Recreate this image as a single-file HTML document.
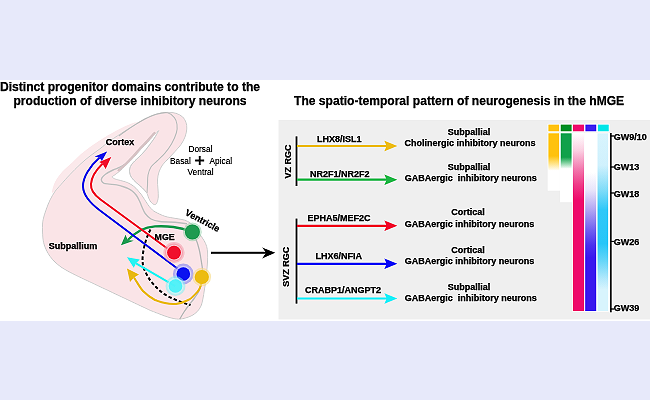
<!DOCTYPE html>
<html><head><meta charset="utf-8">
<style>
html,body{margin:0;padding:0;width:650px;height:400px;overflow:hidden;background:#e7e9fa;}
svg{position:absolute;left:0;top:0;will-change:transform;}
text{font-family:"Liberation Sans",sans-serif;}
.b{font-weight:bold;}
text{stroke:#000;stroke-width:0.25px;}
.n{stroke-width:0.1px;}
</style></head>
<body>
<svg width="650" height="400" viewBox="0 0 650 400">
<defs>
  <filter id="sharp" x="0" y="81" width="650" height="239" filterUnits="userSpaceOnUse" color-interpolation-filters="sRGB"><feConvolveMatrix order="3" kernelMatrix="0 -0.18 0 -0.18 1.72 -0.18 0 -0.18 0" edgeMode="duplicate" preserveAlpha="true"/></filter>
  <linearGradient id="gY" x1="0" y1="0" x2="0" y2="1"><stop offset="0" stop-color="#ffc20e"/><stop offset="0.40" stop-color="#ffc20e"/><stop offset="0.52" stop-color="#ffe07a"/><stop offset="0.66" stop-color="#fff"/><stop offset="1" stop-color="#fff"/></linearGradient>
  <linearGradient id="gG" x1="0" y1="0" x2="0" y2="1"><stop offset="0" stop-color="#10a14b"/><stop offset="0.35" stop-color="#10a14b"/><stop offset="0.43" stop-color="#7ccf9c"/><stop offset="0.52" stop-color="#fff"/><stop offset="1" stop-color="#fff"/></linearGradient>
  <linearGradient id="gP" x1="0" y1="0" x2="0" y2="1"><stop offset="0" stop-color="#fff"/><stop offset="0.096" stop-color="#fbd0e2"/><stop offset="0.21" stop-color="#f272aa"/><stop offset="0.29" stop-color="#ef3a88"/><stop offset="0.376" stop-color="#ee0a6c"/><stop offset="1" stop-color="#ee0a6c"/></linearGradient>
  <linearGradient id="gV" x1="0" y1="0" x2="0" y2="1"><stop offset="0" stop-color="#fff"/><stop offset="0.22" stop-color="#fff"/><stop offset="0.32" stop-color="#e8e4fa"/><stop offset="0.433" stop-color="#b0a4f2"/><stop offset="0.545" stop-color="#7060f0"/><stop offset="0.63" stop-color="#4a30ee"/><stop offset="0.70" stop-color="#3a18ee"/><stop offset="1" stop-color="#3a18ee"/></linearGradient>
  <linearGradient id="gC" x1="0" y1="0" x2="0" y2="1"><stop offset="0" stop-color="#d8f4fd"/><stop offset="0.18" stop-color="#d0f1fd"/><stop offset="0.32" stop-color="#80dcf8"/><stop offset="0.43" stop-color="#30c8f8"/><stop offset="0.62" stop-color="#28c6f8"/><stop offset="0.71" stop-color="#60d4f8"/><stop offset="0.826" stop-color="#b8eafc"/><stop offset="0.88" stop-color="#d8f4fd"/><stop offset="1" stop-color="#d8f4fd"/></linearGradient>
</defs>
<rect x="0" y="0" width="650" height="400" fill="#e7e9fa"/>
<rect x="0" y="80" width="650" height="241" fill="#ffffff"/>
<rect x="278.5" y="120" width="371.5" height="199.5" fill="#efefef"/>
<g filter="url(#sharp)">
<rect x="0" y="0" width="650" height="400" fill="#e7e9fa"/>

<!-- white band -->
<rect x="0" y="80" width="650" height="241" fill="#ffffff"/>
<!-- gray panel -->
<rect x="278.5" y="120" width="371.5" height="199.5" fill="#efefef"/>

<!-- titles -->
<text class="b" x="130" y="91.4" font-size="12.1" text-anchor="middle">Distinct progenitor domains contribute to the</text>
<text class="b" x="130" y="105" font-size="12.1" text-anchor="middle">production of diverse inhibitory neurons</text>
<text class="b" x="294" y="105.2" font-size="12.08">The spatio-temporal pattern of neurogenesis in the hMGE</text>

<!-- ===== brain ===== -->
<g id="brain">
  <path d="M52.00,192.00 C52.00,190.42 53.33,185.33 55.00,182.00 C56.67,178.67 59.08,175.28 62.00,172.00 C64.92,168.72 69.33,165.30 72.50,162.30 C75.67,159.30 78.08,156.55 81.00,154.00 C83.92,151.45 86.83,149.28 90.00,147.00 C93.17,144.72 97.08,142.22 100.00,140.30 C102.92,138.38 104.83,137.10 107.50,135.50 C110.17,133.90 113.08,132.25 116.00,130.70 C118.92,129.15 122.17,127.48 125.00,126.20 C127.83,124.92 130.50,123.73 133.00,123.00 C135.50,122.27 139.67,121.52 140.00,121.80 C140.33,122.08 137.50,123.17 135.00,124.70 C132.50,126.23 129.17,128.32 125.00,131.00 C120.83,133.68 114.17,137.83 110.00,140.80 C105.83,143.77 103.33,146.27 100.00,148.80 C96.67,151.33 93.33,153.38 90.00,156.00 C86.67,158.62 83.33,161.42 80.00,164.50 C76.67,167.58 73.17,171.17 70.00,174.50 C66.83,177.83 63.50,181.67 61.00,184.50 C58.50,187.33 56.50,190.25 55.00,191.50 C53.50,192.75 52.00,193.58 52.00,192.00 Z" fill="#fbe9eb"/>
  <path d="M167.50,112.30 C170.75,112.18 173.50,112.55 176.00,113.30 C178.50,114.05 180.83,115.27 182.50,116.80 C184.17,118.33 185.28,120.47 186.00,122.50 C186.72,124.53 186.97,126.58 186.80,129.00 C186.63,131.42 185.97,134.42 185.00,137.00 C184.03,139.58 182.67,142.08 181.00,144.50 C179.33,146.92 177.08,149.17 175.00,151.50 C172.92,153.83 170.58,156.25 168.50,158.50 C166.42,160.75 164.08,162.75 162.50,165.00 C160.92,167.25 159.83,169.50 159.00,172.00 C158.17,174.50 157.67,177.17 157.50,180.00 C157.33,182.83 157.87,186.17 158.00,189.00 C158.13,191.83 158.47,194.75 158.30,197.00 C158.13,199.25 157.58,201.23 157.00,202.50 C156.42,203.77 155.72,204.55 154.80,204.60 C153.88,204.65 152.50,203.82 151.50,202.80 C150.50,201.78 149.55,200.05 148.80,198.50 C148.05,196.95 148.05,195.25 147.00,193.50 C145.95,191.75 144.25,189.78 142.50,188.00 C140.75,186.22 138.33,184.55 136.50,182.80 C134.67,181.05 132.67,179.38 131.50,177.50 C130.33,175.62 129.67,173.33 129.50,171.50 C129.33,169.67 129.92,167.95 130.50,166.50 C131.08,165.05 131.92,164.08 133.00,162.80 C134.08,161.52 135.58,160.18 137.00,158.80 C138.42,157.42 140.00,156.05 141.50,154.50 C143.00,152.95 144.58,151.22 146.00,149.50 C147.42,147.78 148.70,145.95 150.00,144.20 C151.30,142.45 152.72,140.60 153.80,139.00 C154.88,137.40 155.70,135.98 156.50,134.60 C157.30,133.22 158.60,130.70 158.60,130.70 C158.60,130.70 154.85,134.33 153.00,136.30 C151.15,138.27 149.46,140.40 147.50,142.50 C145.54,144.60 143.54,146.40 141.25,148.90 C138.96,151.40 136.25,154.82 133.75,157.50 C131.25,160.18 128.75,162.60 126.25,165.00 C123.75,167.40 121.14,169.92 118.75,171.90 C116.36,173.88 111.90,176.90 111.90,176.90 C111.90,176.90 113.36,178.18 114.50,178.70 C115.64,179.22 116.58,179.35 118.75,180.00 C120.92,180.65 125.00,181.55 127.50,182.60 C130.00,183.65 132.03,185.02 133.75,186.30 C135.47,187.58 136.51,188.88 137.80,190.30 C139.09,191.72 140.37,193.27 141.50,194.80 C142.63,196.33 143.58,197.93 144.60,199.50 C145.62,201.07 146.57,202.73 147.60,204.20 C148.63,205.67 149.57,207.03 150.80,208.30 C152.03,209.57 152.63,210.47 155.00,211.80 C157.37,213.13 161.67,215.22 165.00,216.30 C168.33,217.38 172.17,217.77 175.00,218.30 C177.83,218.83 179.92,219.00 182.00,219.50 C184.08,220.00 185.50,220.22 187.50,221.30 C189.50,222.38 192.08,224.05 194.00,226.00 C195.92,227.95 197.33,230.58 199.00,233.00 C200.67,235.42 202.72,238.25 204.00,240.50 C205.28,242.75 206.10,244.42 206.70,246.50 C207.30,248.58 207.47,250.42 207.60,253.00 C207.73,255.58 207.65,258.83 207.50,262.00 C207.35,265.17 207.02,268.67 206.70,272.00 C206.38,275.33 205.98,279.00 205.60,282.00 C205.22,285.00 204.85,287.17 204.40,290.00 C203.95,292.83 203.47,296.33 202.90,299.00 C202.33,301.67 201.93,303.92 201.00,306.00 C200.07,308.08 198.80,309.92 197.30,311.50 C195.80,313.08 193.97,314.42 192.00,315.50 C190.03,316.58 187.77,317.38 185.50,318.00 C183.23,318.62 181.15,319.30 178.40,319.20 C175.65,319.10 172.23,318.30 169.00,317.40 C165.77,316.50 162.17,314.98 159.00,313.80 C155.83,312.62 150.00,310.30 150.00,310.30 C150.00,310.30 122.00,297.07 110.00,291.40 C98.00,285.73 78.00,276.30 78.00,276.30 C78.00,276.30 70.83,272.75 68.00,271.20 C65.17,269.65 63.17,268.53 61.00,267.00 C58.83,265.47 56.83,263.78 55.00,262.00 C53.17,260.22 51.45,258.30 50.00,256.30 C48.55,254.30 47.30,252.05 46.30,250.00 C45.30,247.95 44.58,246.17 44.00,244.00 C43.42,241.83 43.05,240.17 42.80,237.00 C42.55,233.83 42.38,228.17 42.50,225.00 C42.62,221.83 42.92,220.50 43.50,218.00 C44.08,215.50 44.92,213.00 46.00,210.00 C47.08,207.00 48.50,203.08 50.00,200.00 C51.50,196.92 53.17,194.08 55.00,191.50 C56.83,188.92 58.50,187.33 61.00,184.50 C63.50,181.67 66.83,177.83 70.00,174.50 C73.17,171.17 76.67,167.58 80.00,164.50 C83.33,161.42 86.67,158.62 90.00,156.00 C93.33,153.38 96.67,151.33 100.00,148.80 C103.33,146.27 105.83,143.77 110.00,140.80 C114.17,137.83 120.83,133.68 125.00,131.00 C129.17,128.32 131.67,126.73 135.00,124.70 C138.33,122.67 141.42,120.58 145.00,118.80 C148.58,117.02 152.75,115.08 156.50,114.00 C160.25,112.92 164.25,112.42 167.50,112.30 Z" fill="#fae4e7" stroke="#cfcfcf" stroke-width="0.9"/>
  <path d="M119.00,136.00 C120.00,135.25 122.33,133.35 125.00,131.50 C127.67,129.65 131.67,126.98 135.00,124.90 C138.33,122.82 141.42,120.78 145.00,119.00 C148.58,117.22 152.75,115.23 156.50,114.20 C160.25,113.17 164.52,112.23 167.50,112.80 C170.48,113.37 172.82,115.65 174.40,117.60 C175.98,119.55 176.67,121.97 177.00,124.50 C177.33,127.03 177.30,129.54 176.40,132.75 C175.50,135.96 173.54,140.31 171.60,143.75 C169.66,147.19 167.18,150.53 164.75,153.40 C162.32,156.28 159.29,158.73 157.00,161.00 C154.71,163.27 152.50,164.67 151.00,167.00 C149.50,169.33 148.58,172.00 148.00,175.00 C147.42,178.00 147.67,182.00 147.50,185.00 C147.33,188.00 147.08,191.67 147.00,193.00" fill="none" stroke="#c2c2c2" stroke-width="1.1"/>
  <path d="M147.00,193.00 C146.25,192.17 144.25,189.70 142.50,188.00 C140.75,186.30 138.33,184.55 136.50,182.80 C134.67,181.05 132.67,179.38 131.50,177.50 C130.33,175.62 129.67,173.33 129.50,171.50 C129.33,169.67 129.92,167.95 130.50,166.50 C131.08,165.05 131.92,164.08 133.00,162.80 C134.08,161.52 135.58,160.18 137.00,158.80 C138.42,157.42 140.00,156.05 141.50,154.50 C143.00,152.95 144.58,151.22 146.00,149.50 C147.42,147.78 148.70,145.95 150.00,144.20 C151.30,142.45 152.72,140.60 153.80,139.00 C154.88,137.40 155.70,135.98 156.50,134.60 C157.30,133.22 158.25,131.35 158.60,130.70" fill="none" stroke="#d4d4d4" stroke-width="0.8"/>
  <path d="M126.00,163.50 C125.00,164.12 122.17,166.12 120.00,167.20 C117.83,168.28 115.42,168.83 113.00,170.00 C110.58,171.17 107.35,172.90 105.50,174.20 C103.65,175.50 102.55,176.67 101.90,177.80 C101.25,178.93 101.25,180.08 101.60,181.00 C101.95,181.92 102.72,182.78 104.00,183.30 C105.28,183.82 107.12,183.83 109.25,184.10 C111.38,184.37 114.25,184.42 116.75,184.90 C119.25,185.38 122.33,186.37 124.25,187.00 C126.17,187.63 126.93,188.00 128.30,188.70 C129.68,189.40 131.13,190.07 132.50,191.20 C133.87,192.33 135.33,193.87 136.50,195.50 C137.67,197.13 138.58,199.08 139.50,201.00 C140.42,202.92 141.05,204.92 142.00,207.00 C142.95,209.08 143.70,211.50 145.20,213.50 C146.70,215.50 148.53,217.67 151.00,219.00 C153.47,220.33 156.00,220.97 160.00,221.50 C164.00,222.03 170.50,221.82 175.00,222.20 C179.50,222.58 185.00,223.53 187.00,223.80" fill="none" stroke="#c4c4c4" stroke-width="1.4"/>
  <path d="M154.50,132.90 C154.12,133.33 153.50,134.05 152.20,135.50 C150.90,136.95 148.67,139.52 146.70,141.60 C144.73,143.68 142.70,145.50 140.40,148.00 C138.10,150.50 135.40,153.90 132.90,156.60 C130.40,159.30 127.80,161.92 125.40,164.20 C123.00,166.48 119.65,169.28 118.50,170.30" fill="none" stroke="#d8c4c6" stroke-width="2.2" stroke-linecap="round"/>
  <path d="M192.00,232.00 C192.72,233.33 195.08,237.00 196.30,240.00 C197.52,243.00 198.52,246.77 199.30,250.00 C200.08,253.23 200.45,255.95 201.00,259.40 C201.55,262.85 202.43,266.93 202.60,270.70 C202.77,274.47 202.60,278.62 202.00,282.00 C201.40,285.38 200.25,288.33 199.00,291.00 C197.75,293.67 196.17,295.67 194.50,298.00 C192.83,300.33 190.75,302.67 189.00,305.00 C187.25,307.33 185.55,309.63 184.00,312.00 C182.45,314.37 180.42,318.00 179.70,319.20" fill="none" stroke="#bdbdbd" stroke-width="1.3"/>
</g>

<!-- brain arrows -->
<g fill="none" stroke-linecap="butt">
  <!-- dashed -->
  <path d="M150.5,229.5 C147,236 144,245 142.8,255 C142,262 143,267 145,271 C148,278 152,283 156,287 C161,292 167,296.5 173,298.5 C179,301.5 184.5,303.5 190.5,305" stroke="#111" stroke-width="2" stroke-dasharray="3.4,2.2"/>
  <!-- yellow -->
  <path d="M202,280 C201,287 198,292 195.4,294 C193,297 190,299.6 186,301 C183,302.5 180,303.5 176,304 C172,304.3 169,304 165,303 C161,302.5 158,301 155,300 C150,297.5 146,294 143,291 C139.5,287 137,282 134,277.5" stroke="#e8b812" stroke-width="2"/>
  <!-- green -->
  <path d="M191,231.5 C186,229.5 180,227.8 173.4,227 C168,226.3 161,226.1 155,226.4 C149,226.9 145,228 141,230 C136.5,232.5 132,235.5 127.8,240" stroke="#1f9a50" stroke-width="2.3"/>
  <!-- blue -->
  <path d="M183.4,273 L100,210.5 C92,204.5 83.3,196 83,186.5 C82.8,177 90,166 99.5,157.8" stroke="#1010e8" stroke-width="2"/>
  <!-- red -->
  <path d="M173.5,253 L100.5,199.5 C94,194.8 90.5,190 91,184 C91.5,177 96,170 102.5,163.7" stroke="#f0102c" stroke-width="2"/>
  <!-- cyan -->
  <path d="M175.2,286.2 L136,263.3" stroke="#2af2f2" stroke-width="2"/>
</g>
<!-- arrowheads brain -->
<path d="M107.1,151.4 L94.75,156.6 L99.5,157.8 L101.9,161.1 Z" fill="#1010e8"/>
<path d="M111.25,157 L99.25,161.9 L102.5,163.7 L105.6,169 Z" fill="#f0102c"/>
<path d="M121,245.25 L125.5,234.75 L127.75,240 L133.75,240.75 Z" fill="#1f9a50"/>
<path d="M127,257.25 L139.75,259.5 L136,263.3 L133.75,267.75 Z" fill="#2af2f2"/>
<path d="M127,268.5 L139,274.5 L134,277.5 L130,282 Z" fill="#e8b812"/>

<!-- circles -->
<circle cx="192.4" cy="231.9" r="9.4" fill="#8fd0a8" opacity="0.55"/>
<circle cx="192.4" cy="231.9" r="7.5" fill="#1f9a50"/>
<circle cx="174" cy="252.6" r="10.6" fill="#f4a0ae" opacity="0.55"/>
<circle cx="174" cy="252.6" r="9" fill="#f58a9a" opacity="0.5"/>
<circle cx="174" cy="252.6" r="7.9" fill="#f8c0c9"/>
<circle cx="174" cy="252.6" r="6.9" fill="#f0102c"/>
<circle cx="183.3" cy="274" r="10.4" fill="#8f8ff0" opacity="0.65"/>
<circle cx="183.3" cy="274" r="8.2" fill="#c6c6fa" opacity="0.8"/>
<circle cx="183.3" cy="274" r="6.8" fill="#0a12f0"/>
<circle cx="175.5" cy="286" r="10" fill="#7ff0f4" opacity="0.5"/>
<circle cx="175.5" cy="286" r="8.2" fill="#c9fbfd" opacity="0.5"/>
<circle cx="175.5" cy="286" r="6.8" fill="#3cf0f8" opacity="0.82"/>
<circle cx="201.8" cy="277" r="9.3" fill="#f6dc8a" opacity="0.6"/>
<circle cx="201.8" cy="277" r="7.1" fill="#ecbc12"/>

<!-- brain labels -->
<text class="b" x="105.8" y="145.3" font-size="9">Cortex</text>
<g><text x="188.5" y="151.5" font-size="8.3" class="n">Dorsal</text>
<text x="170" y="163.5" font-size="8.3" class="n">Basal</text>
<text x="209.5" y="163.5" font-size="8.3" class="n">Apical</text>
<text x="187.5" y="174.5" font-size="8.4" class="n">Ventral</text></g>
<path d="M199.7,156 V165 M195.2,160.5 H204.2" stroke="#111" stroke-width="1.9"/>
<text class="b" x="48.8" y="248.8" font-size="9">Subpallium</text>
<text class="b" x="154.6" y="240.1" font-size="8.8">MGE</text>
<text class="b" font-size="9" transform="translate(184.6,214.6) rotate(28)">Ventricle</text>

<!-- big black arrow -->
<path d="M211,252.7 H266" stroke="#000" stroke-width="2"/>
<path d="M275.2,252.7 L262.2,247.6 L266,252.7 L262.2,258.5 Z" fill="#000"/>

<!-- ===== right panel ===== -->
<text class="b" font-size="9" transform="translate(290.5,178.6) rotate(-90)">VZ RGC</text>
<text class="b" font-size="9" transform="translate(289.4,286.8) rotate(-90)">SVZ RGC</text>
<rect x="295.6" y="136.4" width="1.8" height="49.6" fill="#111"/>
<rect x="295.6" y="218.6" width="1.8" height="85" fill="#111"/>

<g stroke-width="2.2">
  <line x1="297" y1="146" x2="387" y2="146" stroke="#ecbb17"/>
  <line x1="297" y1="179.7" x2="387" y2="179.7" stroke="#1eb543"/>
  <line x1="297" y1="225.8" x2="387" y2="225.8" stroke="#f0062a"/>
  <line x1="297" y1="263.8" x2="387" y2="263.8" stroke="#0a0af5"/>
  <line x1="297" y1="298.5" x2="387" y2="298.5" stroke="#18eef8"/>
</g>
<path d="M397.3,146 L384.4,140.7 L386.6,146 L384.4,151.3 Z" fill="#ecbb17"/>
<path d="M397.3,179.7 L384.4,174.4 L386.6,179.7 L384.4,185.0 Z" fill="#1eb543"/>
<path d="M397.3,225.8 L384.4,220.5 L386.6,225.8 L384.4,231.1 Z" fill="#f0062a"/>
<path d="M397.3,263.8 L384.4,258.5 L386.6,263.8 L384.4,269.1 Z" fill="#0a0af5"/>
<path d="M397.3,298.5 L384.4,293.2 L386.6,298.5 L384.4,303.8 Z" fill="#18eef8"/>

<g class="b" font-size="9" font-weight="bold">
  <text x="317" y="142.4">LHX8/ISL1</text>
  <text x="310" y="176.5">NR2F1/NR2F2</text>
  <text x="307.4" y="221.4">EPHA5/MEF2C</text>
  <text x="315.5" y="259.2">LHX6/NFIA</text>
  <text x="305" y="292.5">CRABP1/ANGPT2</text>
</g>
<g class="b" font-size="9" font-weight="bold" text-anchor="middle" style="white-space:pre">
  <text x="469" y="134.9">Subpallial</text>
  <text x="470" y="145.5">Cholinergic inhibitory neurons</text>
  <text x="469" y="170.2">Subpallial</text>
  <text x="470.8" y="181.2">GABAergic&#160; inhibitory neurons</text>
  <text x="468" y="215.1">Cortical</text>
  <text x="469.4" y="226.7">GABAergic inhibitory neurons</text>
  <text x="468" y="252.5">Cortical</text>
  <text x="469.4" y="263.9">GABAergic inhibitory neurons</text>
  <text x="469" y="289.7">Subpallial</text>
  <text x="470.8" y="300.5">GABAergic&#160; inhibitory neurons</text>
</g>

<!-- legend squares -->
<g stroke="#fff" stroke-width="1.4" paint-order="stroke">
<rect x="548.4" y="124.6" width="10.8" height="6.7" fill="#ffc20e"/>
<rect x="560.7" y="124.6" width="10.9" height="6.7" fill="#008f26"/>
<rect x="573" y="124.6" width="10.9" height="6.7" fill="#ee0a6e"/>
<rect x="585.4" y="124.6" width="10.9" height="6.7" fill="#3a1ff0"/>
<rect x="597.8" y="124.6" width="10.9" height="6.7" fill="#00e5e8"/>
<!-- bars -->
<rect x="548.4" y="133.3" width="10.8" height="56.7" fill="url(#gY)"/>
<rect x="560.7" y="133.3" width="10.9" height="68.2" fill="url(#gG)"/>
<rect x="573" y="133.3" width="11" height="177.7" fill="url(#gP)"/>
<rect x="585.2" y="133.3" width="11.1" height="177.7" fill="url(#gV)"/>
<rect x="597.5" y="133.3" width="10.7" height="177.7" fill="url(#gC)"/>
</g>

<!-- axis -->
<rect x="610.2" y="133" width="1.4" height="179.3" fill="#000"/>
<g stroke="#000" stroke-width="1.2">
  <line x1="610.5" y1="136" x2="614" y2="136"/>
  <line x1="610.5" y1="167" x2="614" y2="167"/>
  <line x1="610.5" y1="193" x2="614" y2="193"/>
  <line x1="610.5" y1="241.4" x2="614" y2="241.4"/>
  <line x1="610.5" y1="309" x2="614" y2="309"/>
</g>
<g class="b" font-size="9" font-weight="bold">
  <text x="613.8" y="139.7">GW9/10</text>
  <text x="613.8" y="170.3">GW13</text>
  <text x="613.8" y="196.6">GW18</text>
  <text x="613.8" y="244.6">GW26</text>
  <text x="613.8" y="311.3">GW39</text>
</g>
</g>
</svg>
</body></html>
